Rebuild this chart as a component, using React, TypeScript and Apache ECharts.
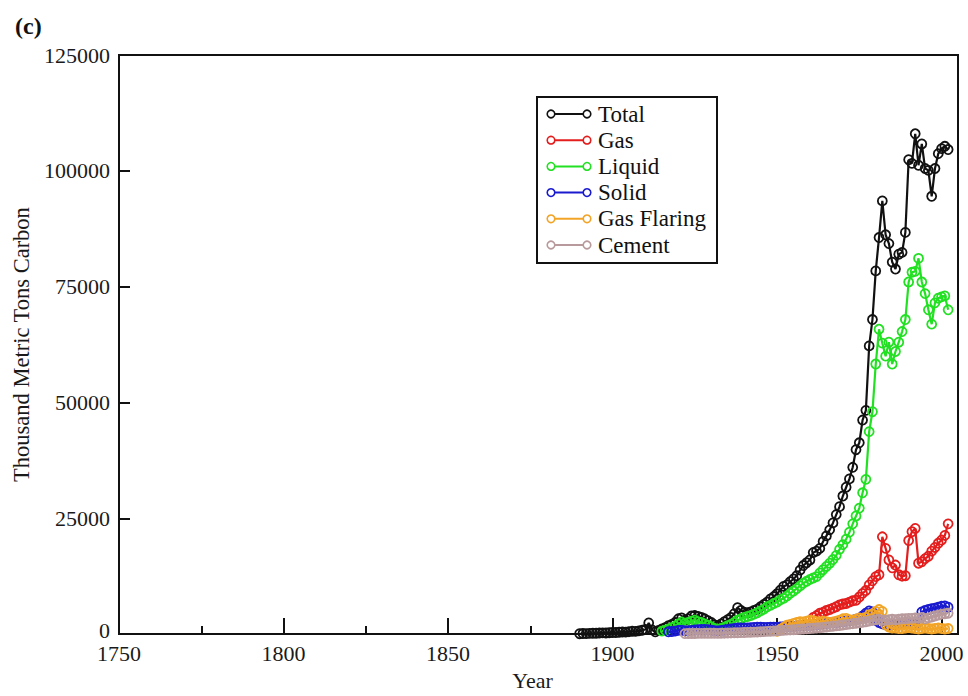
import React, { useEffect, useRef } from "react";
import * as echarts from "echarts";

// ---- data ----
const seriesNames = ["Total", "Gas", "Liquid", "Solid", "Gas Flaring", "Cement"];
const seriesColors = ["#111111", "#e41d1d", "#22e022", "#1a1acf", "#f2a427", "#b89a9c"];

const totalStartYear = 1890;
const totalValues = [
  80, 120, 110, 150, 180, 170, 220, 260, 240, 300,
  350, 330, 400, 460, 430, 520, 600, 580, 700, 820,
  1000, 2400, 900, 500, 800, 1100, 1400, 1800, 2100, 2500,
  3300, 3500, 3000, 3300, 3900, 4000, 3800, 3600, 3300, 2900,
  2500, 2000, 1800, 2200, 2700, 3100, 3600, 4400, 5700, 5100,
  4700, 4600, 4800, 5100, 5400, 5900, 6400, 6900, 7600, 8100,
  8700, 9500, 10300, 10600, 11300, 11900, 12600, 13800, 14800, 15400,
  16000, 17600, 17900, 18500, 20000, 21200, 22500, 24000, 25800, 27500,
  29800, 31700, 33500, 36000, 39800, 41300, 46200, 48300, 62200, 67900,
  78400, 85600, 93500, 86200, 84300, 80300, 78800, 82000, 82400, 86700,
  102400, 101600, 108000, 101200, 105800, 100500, 100100, 94500, 100500, 103700,
  104800, 105300, 104600,
];

const gasStartYear = 1961;
const gasValues = [
  3600, 4000, 4500, 4700, 5100, 5300, 5600, 5900, 6300,
  6500, 6600, 6900, 7200, 7300, 8000, 8800, 9400, 10600, 11500,
  12400, 12800, 21000, 18500, 16000, 14300, 14900, 12800, 12500, 12600,
  20200, 22100, 22800, 15300, 15600, 16300, 16800, 17900, 18700, 19600,
  20300, 21300, 23800,
];

const liquidStartYear = 1915;
const liquidValues = [
  650, 850, 1100, 1400, 1700,
  2200, 2600, 2300, 2500, 2800, 3000, 2700, 2500, 2200, 1900,
  1600, 1200, 1000, 1200, 1500, 1800, 2100, 2500, 3000, 3300,
  3600, 3800, 4000, 4300, 4600, 5000, 5400, 5900, 6200, 6600,
  6900, 7400, 7700, 8200, 8800, 9300, 9800, 10400, 11000, 11400,
  11800, 12100, 12400, 13200, 13900, 14600, 15300, 16100, 17000, 18300,
  19300, 20500, 22000, 23800, 25500, 27200, 30500, 33400, 43700, 48000,
  58300, 65800, 62800, 60000, 63000, 58300, 61000, 63000, 65300, 67900,
  76000, 78100, 78300, 81100, 76000, 73500, 70000, 66900, 71500, 72500,
  72800, 73000, 70000,
];

const solidStartYear = 1917;
const solidValues = [
  500, 550, 650,
  800, 850, 700, 750, 800, 900, 950, 1000, 1000, 950,
  850, 750, 700, 800, 900, 1000, 1100, 1200, 1300, 1300,
  1300, 1350, 1400, 1450, 1500, 1500, 1450, 1450, 1500, 1500,
  1500, 1550, 1600, 1650, 1700, 1700, 1750, 1800, 1850, 1900,
  1900, 1950, 2000, 2100, 2200, 2300, 2400, 2500, 2500, 2600,
  2700, 2800, 2900, 3000, 3200, 3400, 3900, 4500, 5000, 4800,
  3000, 2500, 2200, 2000, 1900, 2000, 2100, 2200, 2300, 2400,
  2300, 2100, 2000, 2600, 4800, 5100, 5300, 5500, 5600, 5800,
  6000, 6100, 5800,
];

const flaringStartYear = 1950;
const flaringValues = [
  600, 1000, 1500, 1900, 2100, 2300, 2500, 2700, 2600, 2800,
  3000, 2900, 2700, 2600, 2800, 2700, 2500, 2600, 2800, 3000,
  3300, 3400, 3100, 3000, 3200, 3500, 3400, 3600, 4200, 4300,
  4900, 5300, 4900, 2000, 1500, 1300, 1300, 1200, 1200, 1300,
  1400, 1300, 1200, 1100, 1200, 1300, 1200, 1100, 1200, 1300,
  1200, 1100, 1200,
];

const cementStartYear = 1922;
const cementValues = [
  110, 120, 130, 140, 150, 160, 170, 180,
  180, 170, 160, 180, 200, 220, 250, 280, 300, 320,
  340, 370, 400, 430, 460, 500, 540, 580, 620, 660,
  700, 750, 800, 850, 900, 950, 1000, 1050, 1100, 1150,
  1200, 1250, 1300, 1380, 1460, 1540, 1620, 1700, 1780, 1860,
  1950, 2050, 2150, 2250, 2350, 2450, 2550, 2650, 2800, 2950,
  3100, 3200, 3000, 3000, 3100, 3200, 3100, 3200, 3300, 3300,
  3400, 3400, 3500, 3400, 3600, 3300, 3500, 3700, 3900, 4100,
  4300, 4400, 4500,
];

const xTickLabels = [1750, 1800, 1850, 1900, 1950, 2000];
const xMinorTicks = [1775, 1825, 1875, 1925, 1975];
const yTickLabels = [0, 25000, 50000, 75000, 100000, 125000];

const seriesStarts = [totalStartYear, gasStartYear, liquidStartYear, solidStartYear, flaringStartYear, cementStartYear];
const seriesValues = [totalValues, gasValues, liquidValues, solidValues, flaringValues, cementValues];

const FONT = '"Liberation Serif", "Times New Roman", serif';

function toPairs(start: number, values: number[]) {
  return values.map((v, i) => [start + i, v]);
}

export default function App() {
  const ref = useRef<HTMLDivElement>(null);

  useEffect(() => {
    document.body.style.margin = "0";
    if (!ref.current) return;
    const chart = echarts.init(ref.current, undefined, { renderer: "svg" });

    const legendX = 537;
    const legendY = 97;
    const rowStart = 114;
    const rowGap = 26.2;
    const legendGraphics: any[] = [
      {
        type: "rect",
        shape: { x: legendX, y: legendY, width: 180, height: 166 },
        style: { fill: "#fff", stroke: "#111", lineWidth: 2 },
        z: 100,
      },
    ];
    seriesNames.forEach((name, i) => {
      const yc = rowStart + i * rowGap;
      const c = seriesColors[i];
      legendGraphics.push(
        { type: "line", shape: { x1: 551, y1: yc, x2: 587, y2: yc }, style: { stroke: c, lineWidth: 2 }, z: 101 },
        { type: "circle", shape: { cx: 551, cy: yc, r: 3.8 }, style: { fill: "#fff", stroke: c, lineWidth: 1.6 }, z: 102 },
        { type: "circle", shape: { cx: 587, cy: yc, r: 3.8 }, style: { fill: "#fff", stroke: c, lineWidth: 1.6 }, z: 102 },
        {
          type: "text",
          x: 598,
          y: yc,
          style: { text: name, font: `23px ${FONT}`, fill: "#111", textVerticalAlign: "middle", textAlign: "left" },
          z: 102,
        }
      );
    });

    const option: any = {
      animation: false,
      backgroundColor: "#fff",
      title: {
        text: "(c)",
        left: 10,
        top: 9,
        textStyle: { fontFamily: FONT, fontWeight: "bold", fontSize: 24, color: "#111" },
      },
      grid: {
        left: 119,
        right: 10,
        top: 55,
        bottom: 54,
        show: true,
        borderColor: "#111",
        borderWidth: 2,
        backgroundColor: "transparent",
      },
      xAxis: [
        {
          type: "value",
          min: 1750,
          max: 2005,
          interval: 50,
          name: "Year",
          nameLocation: "middle",
          nameGap: 32,
          nameTextStyle: { fontFamily: FONT, fontSize: 22, color: "#1a1a1a", padding: [0, 12, 0, 0] },
          axisLine: { show: true, lineStyle: { color: "#111", width: 2 } },
          axisTick: { show: true, inside: true, length: 16, lineStyle: { color: "#111", width: 2 }, customValues: xTickLabels },
          axisLabel: {
            fontFamily: FONT,
            fontSize: 22,
            lineHeight: 16,
            color: "#1a1a1a",
            margin: 11,
            customValues: xTickLabels,
            formatter: (v: number) => (v % 50 === 0 ? String(v) : ""),
          },
          splitLine: { show: false },
        },
        {
          type: "value",
          min: 1750,
          max: 2005,
          interval: 25,
          position: "bottom",
          axisLine: { show: false },
          axisTick: { show: true, inside: true, length: 8, lineStyle: { color: "#111", width: 2 }, customValues: xMinorTicks },
          axisLabel: { show: false },
          splitLine: { show: false },
        },
      ],
      yAxis: {
        type: "value",
        min: 0,
        max: 125000,
        interval: 25000,
        name: "Thousand Metric Tons Carbon",
        nameLocation: "middle",
        nameGap: 84,
        nameTextStyle: { fontFamily: FONT, fontSize: 22.5, color: "#1a1a1a" },
        axisLine: { show: true, lineStyle: { color: "#111", width: 2 } },
        axisTick: { show: true, inside: true, length: 11, lineStyle: { color: "#111", width: 2 } },
        axisLabel: {
          fontFamily: FONT,
          fontSize: 22,
          lineHeight: 16,
          color: "#1a1a1a",
          margin: 9,
          customValues: yTickLabels,
          formatter: (v: number) => (v === 0 ? "{z|0}" : String(v)),
          rich: {
            z: { fontFamily: FONT, fontSize: 22, lineHeight: 14, color: "#1a1a1a", padding: [0, 0, 8, 0] },
          },
        },
        splitLine: { show: false },
      },
      series: seriesNames.map((name, i) => ({
        type: "line",
        name,
        xAxisIndex: 0,
        data: toPairs(seriesStarts[i], seriesValues[i]),
        symbol: "circle",
        symbolSize: 9,
        showSymbol: true,
        showAllSymbol: true,
        itemStyle: { color: "rgba(255,255,255,0)", borderColor: seriesColors[i], borderWidth: 1.8 },
        lineStyle: { color: seriesColors[i], width: 2.2 },
        emphasis: { disabled: true },
        silent: true,
        z: 2 + i,
      })),
      graphic: legendGraphics,
    };

    chart.setOption(option);
    return () => chart.dispose();
  }, []);

  return (
    <div
      ref={ref}
      style={{ position: "absolute", left: 0, top: 0, width: 968, height: 696 }}
    />
  );
}
